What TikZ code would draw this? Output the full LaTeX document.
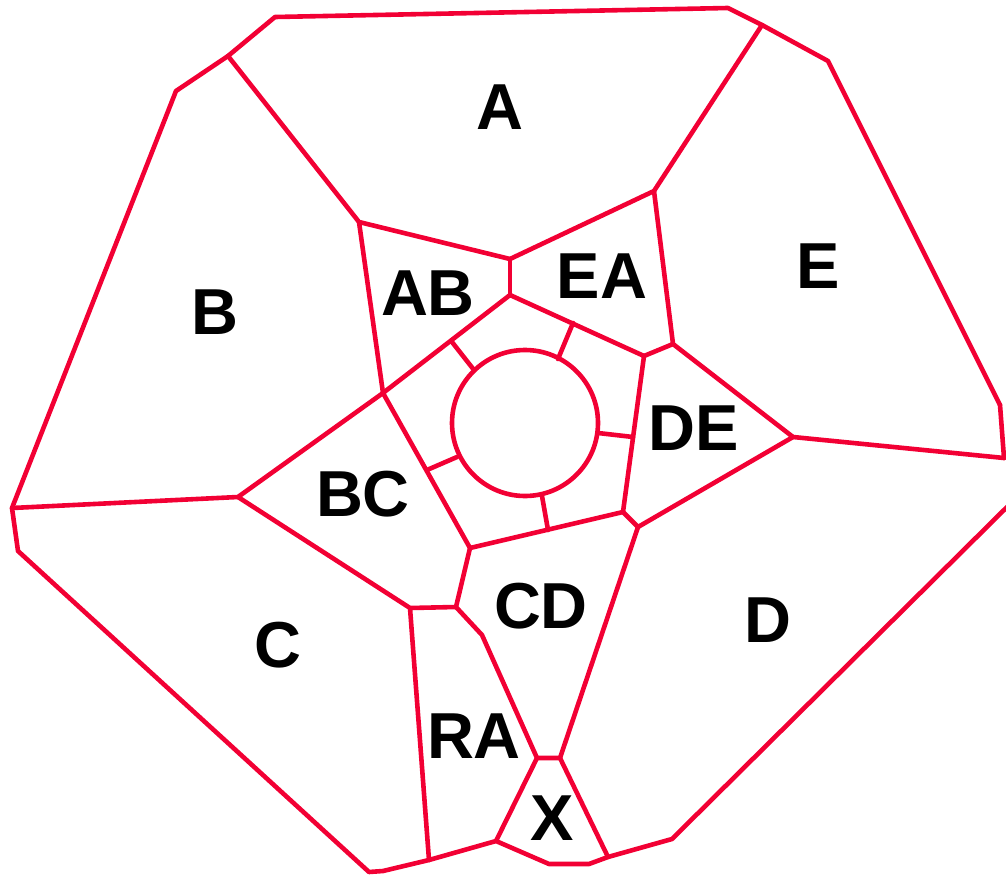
\documentclass[tikz,border=0pt]{standalone}
\usepackage{fontspec}
\setmainfont{Liberation Sans}
\definecolor{edge}{RGB}{242,0,52}
\begin{document}
\begin{tikzpicture}[x=1pt,y=-1pt,
  wall/.style={draw=edge,line width=4.6pt,line join=round,line cap=round},
  lbl/.style={font=\fontsize{65}{65}\selectfont\bfseries,text=black,inner sep=0pt}]
\useasboundingbox (0,0) rectangle (1006,875);
\clip (0,0) rectangle (1006,875);
% outer vertices
\coordinate (o1) at (275,17);
\coordinate (o2) at (728,8);
\coordinate (o3) at (762,25);
\coordinate (o4) at (828,61);
\coordinate (o5) at (1000,405);
\coordinate (o6) at (1004,458);
\coordinate (o7a) at (1018,496);
\coordinate (o7) at (1006,508);
\coordinate (o8) at (672,839);
\coordinate (o9) at (608,857);
\coordinate (o10) at (589,864);
\coordinate (o11) at (549,864);
\coordinate (o12) at (496,841);
\coordinate (o13) at (429,860);
\coordinate (o14) at (383,871);
\coordinate (o15) at (369,872);
\coordinate (o16) at (18,551);
\coordinate (o17) at (12,508);
\coordinate (o18) at (176,91);
\coordinate (o19) at (228,56);
% inner vertices
\coordinate (ab1) at (359,222);
\coordinate (ab2) at (510,259);
\coordinate (r1) at (510,295);
\coordinate (ea1) at (654,191);
\coordinate (ea2) at (673,344);
\coordinate (r2) at (644,356);
\coordinate (de1) at (793,437);
\coordinate (de2) at (638,527);
\coordinate (r3) at (623,512);
\coordinate (r4) at (470,548);
\coordinate (r5) at (383,393);
\coordinate (bc1) at (238,497);
\coordinate (c1) at (410,608);
\coordinate (c2) at (456,607);
\coordinate (ra1) at (482,635);
\coordinate (x1) at (537,758);
\coordinate (x2) at (560,758);
% spokes
\coordinate (s1a) at (452,342); \coordinate (s1b) at (474,370);
\coordinate (s2a) at (573,323); \coordinate (s2b) at (558,359);
\coordinate (s3a) at (633,437); \coordinate (s3b) at (598,433);
\coordinate (s4a) at (548,530); \coordinate (s4b) at (542,496);
\coordinate (s5a) at (427,470); \coordinate (s5b) at (457,457);
% circle
\node[wall,circle,minimum size=146pt,inner sep=0pt] (hole) at (525,423) {};
% outer boundary
\draw[wall] (o5) -- (o4) -- (o3) -- (o2) -- (o1) -- (o19) -- (o18) -- (o17) -- (o16) -- (o15) -- (o14) -- (o13) -- (o12) -- (o11) -- (o10) -- (o9) -- (o8) -- (o7) -- (o7a);
\draw[wall] (o5) -- (o6);
% region walls
\draw[wall] (o19) -- (ab1) -- (ab2) -- (ea1) -- (o3);
\draw[wall] (ab2) -- (r1);
\draw[wall] (ea1) -- (ea2) -- (r2);
\draw[wall] (ab1) -- (r5);
\draw[wall] (r1) -- (r2) -- (r3) -- (r4) -- (r5) -- cycle;
\draw[wall] (ea2) -- (de1) -- (de2) -- (r3);
\draw[wall] (de1) -- (o6);
\draw[wall] (o17) -- (bc1) -- (r5);
\draw[wall] (bc1) -- (c1) -- (c2) -- (r4);
\draw[wall] (c1) -- (o13);
\draw[wall] (c2) -- (ra1) -- (x1) -- (x2) -- (de2);
\draw[wall] (x1) -- (o12);
\draw[wall] (x2) -- (o9);
% spokes
\draw[wall] (s1a) -- (s1b);
\draw[wall] (s2a) -- (s2b);
\draw[wall] (s3a) -- (s3b);
\draw[wall] (s4a) -- (s4b);
\draw[wall] (s5a) -- (s5b);
% labels
\node[lbl] (lA) at (500,107) {A};
\node[lbl] (lB) at (215,312) {B};
\node[lbl] (lE) at (818,266) {E};
\node[lbl] (lAB) at (428,293) {AB};
\node[lbl] (lEA) at (602,276) {EA};
\node[lbl] (lDE) at (694,428) {DE};
\node[lbl] (lBC) at (363,494) {BC};
\node[lbl] (lC) at (278,645) {C};
\node[lbl] (lCD) at (541,606) {CD};
\node[lbl] (lD) at (768,620) {D};
\node[lbl] (lRA) at (474,736) {RA};
\node[lbl] (lX) at (552,818) {X};
\end{tikzpicture}
\end{document}
